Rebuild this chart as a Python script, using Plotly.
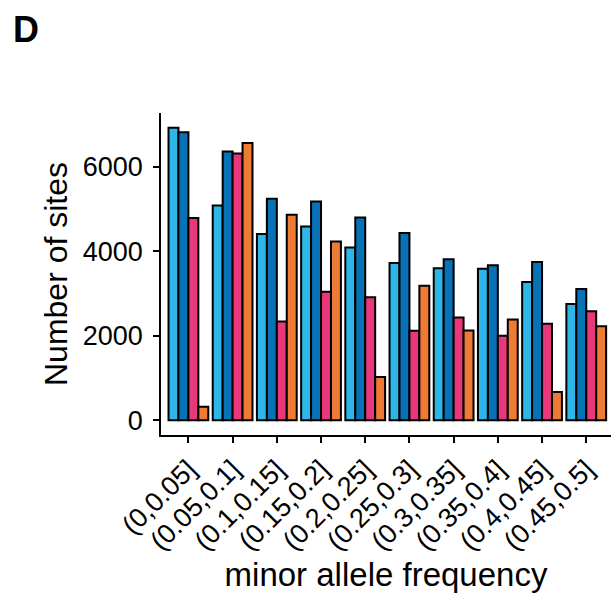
import plotly.graph_objects as go

categories = ["(0,0.05]", "(0.05,0.1]", "(0.1,0.15]", "(0.15,0.2]", "(0.2,0.25]",
              "(0.25,0.3]", "(0.3,0.35]", "(0.35,0.4]", "(0.4,0.45]", "(0.45,0.5]"]
series_names = ["A", "B", "C", "D"]
series_light_blue = [6920, 5080, 4403, 4585, 4089, 3719, 3594, 3585, 3271, 2752]
series_dark_blue = [6809, 6354, 5236, 5175, 4797, 4427, 3807, 3665, 3743, 3106]
series_pink = [4781, 6307, 2335, 3042, 2910, 2116, 2429, 1998, 2281, 2580]
series_orange = [323, 6557, 4858, 4231, 1023, 3184, 2123, 2382, 670, 2226]
colors = ["#2FB6E8", "#0872B6", "#E8377A", "#EE7B33"]
y_ticks = [0, 2000, 4000, 6000]

FONT = "Liberation Sans"
fig = go.Figure()
for name, vals, col in zip(series_names,
                           [series_light_blue, series_dark_blue, series_pink, series_orange],
                           colors):
    fig.add_trace(go.Bar(x=list(range(len(categories))), y=vals, name=name,
                         marker=dict(color=col, line=dict(color="black", width=2))))

fig.update_layout(
    width=613, height=597,
    margin=dict(l=161, r=2, t=113, b=162),
    barmode="group", bargap=0.1, bargroupgap=0,
    plot_bgcolor="white", paper_bgcolor="white",
    showlegend=False,
    font=dict(family=FONT, color="black"),
    xaxis=dict(
        range=[-0.62, 9.56],
        tickmode="array", tickvals=list(range(len(categories))), ticktext=categories,
        tickangle=-45, tickfont=dict(size=27, color="black"),
        ticks="outside", ticklen=6, tickwidth=1.5, tickcolor="black",
        showline=True, linecolor="black", linewidth=1.5,
        showgrid=False, zeroline=False,
        title=dict(text="minor allele frequency", font=dict(size=33, color="black"), standoff=8),
    ),
    yaxis=dict(
        range=[-346, 7266],
        tickmode="array", tickvals=y_ticks,
        tickfont=dict(size=27, color="black"),
        ticks="outside", ticklen=6, tickwidth=1.5, tickcolor="black",
        ticklabelstandoff=5,
        showline=True, linecolor="black", linewidth=1.5,
        showgrid=False, zeroline=False,
        title=dict(text="Number of sites", font=dict(size=32, color="black"), standoff=6),
    ),
)
fig.add_annotation(text="<b>D</b>", xref="paper", yref="paper",
                   x=-161/450 + 11/450, y=1 + (113-7)/322,
                   xanchor="left", yanchor="top", showarrow=False,
                   font=dict(size=36, color="black", family=FONT))

fig.write_html("out.html")
